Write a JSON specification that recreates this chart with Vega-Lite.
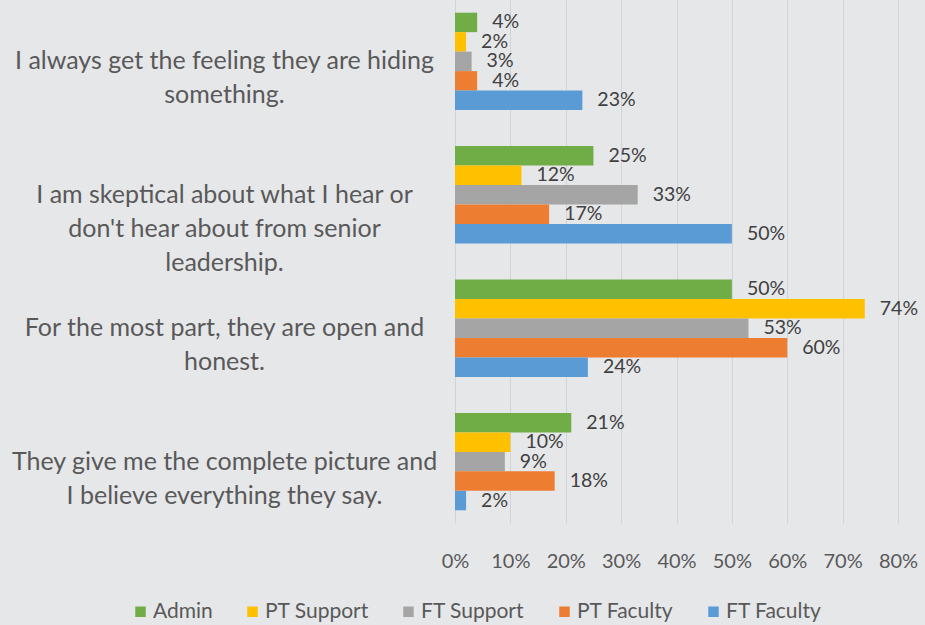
{
  "$schema": "https://vega.github.io/schema/vega-lite/v6.json",
  "width": 443,
  "height": 523,
  "autosize": {"type": "none"},
  "padding": {"left": 455, "top": 0, "right": 27, "bottom": 102},
  "background": "#e6e7e9",
  "config": {"view": {"stroke": null}, "font": "Lato"},
  "data": {
    "values": [
      {"statement": "I always get the feeling they are hiding something.", "group": "Admin", "value": 0.04},
      {"statement": "I always get the feeling they are hiding something.", "group": "PT Support", "value": 0.02},
      {"statement": "I always get the feeling they are hiding something.", "group": "FT Support", "value": 0.03},
      {"statement": "I always get the feeling they are hiding something.", "group": "PT Faculty", "value": 0.04},
      {"statement": "I always get the feeling they are hiding something.", "group": "FT Faculty", "value": 0.23},
      {"statement": "I am skeptical about what I hear or don't hear about from senior leadership.", "group": "Admin", "value": 0.25},
      {"statement": "I am skeptical about what I hear or don't hear about from senior leadership.", "group": "PT Support", "value": 0.12},
      {"statement": "I am skeptical about what I hear or don't hear about from senior leadership.", "group": "FT Support", "value": 0.33},
      {"statement": "I am skeptical about what I hear or don't hear about from senior leadership.", "group": "PT Faculty", "value": 0.17},
      {"statement": "I am skeptical about what I hear or don't hear about from senior leadership.", "group": "FT Faculty", "value": 0.50},
      {"statement": "For the most part, they are open and honest.", "group": "Admin", "value": 0.50},
      {"statement": "For the most part, they are open and honest.", "group": "PT Support", "value": 0.74},
      {"statement": "For the most part, they are open and honest.", "group": "FT Support", "value": 0.53},
      {"statement": "For the most part, they are open and honest.", "group": "PT Faculty", "value": 0.60},
      {"statement": "For the most part, they are open and honest.", "group": "FT Faculty", "value": 0.24},
      {"statement": "They give me the complete picture and I believe everything they say.", "group": "Admin", "value": 0.21},
      {"statement": "They give me the complete picture and I believe everything they say.", "group": "PT Support", "value": 0.10},
      {"statement": "They give me the complete picture and I believe everything they say.", "group": "FT Support", "value": 0.09},
      {"statement": "They give me the complete picture and I believe everything they say.", "group": "PT Faculty", "value": 0.18},
      {"statement": "They give me the complete picture and I believe everything they say.", "group": "FT Faculty", "value": 0.02}
    ]
  },
  "encoding": {
    "y": {
      "field": "statement",
      "type": "nominal",
      "sort": [
        "I always get the feeling they are hiding something.",
        "I am skeptical about what I hear or don't hear about from senior leadership.",
        "For the most part, they are open and honest.",
        "They give me the complete picture and I believe everything they say."
      ],
      "scale": {"paddingInner": 0.27, "paddingOuter": 0.095},
      "axis": {
        "title": null,
        "ticks": false,
        "domain": false,
        "labelAlign": "center",
        "labelBaseline": "middle",
        "labelPadding": 231,
        "labelLimit": 0,
        "labelFontSize": 25,
        "labelLineHeight": 34,
        "labelColor": "#595959",
        "labelExpr": "test(/hiding/, datum.value) ? ['I always get the feeling they are hiding', 'something.'] : test(/skeptical/, datum.value) ? ['I am skeptical about what I hear or', \"don't hear about from senior\", 'leadership.'] : test(/honest/, datum.value) ? ['For the most part, they are open and', 'honest.'] : ['They give me the complete picture and', 'I believe everything they say.']"
      }
    },
    "yOffset": {
      "field": "group",
      "type": "nominal",
      "sort": ["Admin", "PT Support", "FT Support", "PT Faculty", "FT Faculty"],
      "scale": {"paddingInner": 0, "paddingOuter": 0}
    },
    "x": {
      "field": "value",
      "type": "quantitative",
      "scale": {"domain": [0, 0.8], "nice": false},
      "axis": {
        "title": null,
        "format": ".0%",
        "values": [0, 0.1, 0.2, 0.3, 0.4, 0.5, 0.6, 0.7, 0.8],
        "ticks": false,
        "domain": false,
        "grid": true,
        "gridColor": "#d2d3d5",
        "gridWidth": 1,
        "labelFontSize": 20,
        "labelColor": "#595959",
        "labelPadding": 28,
        "labelFlush": false
      }
    }
  },
  "layer": [
    {
      "mark": {"type": "bar"},
      "encoding": {
        "color": {
          "field": "group",
          "type": "nominal",
          "sort": ["Admin", "PT Support", "FT Support", "PT Faculty", "FT Faculty"],
          "scale": {
            "domain": ["Admin", "PT Support", "FT Support", "PT Faculty", "FT Faculty"],
            "range": ["#70ad47", "#ffc000", "#a5a5a5", "#ed7d31", "#5b9bd5"]
          },
          "legend": {
            "title": null,
            "orient": "none",
            "direction": "horizontal",
            "legendX": -325,
            "legendY": 601,
            "symbolType": "square",
            "symbolSize": 110,
            "symbolStrokeWidth": 0,
            "labelFontSize": 21,
            "labelColor": "#595959",
            "labelOffset": 2,
            "columnPadding": 29,
            "columns": 5
          }
        }
      }
    },
    {
      "mark": {"type": "text", "align": "left", "baseline": "middle", "dx": 15, "fontSize": 19.5, "color": "#404040"},
      "encoding": {
        "text": {"field": "value", "type": "quantitative", "format": ".0%"}
      }
    }
  ]
}
